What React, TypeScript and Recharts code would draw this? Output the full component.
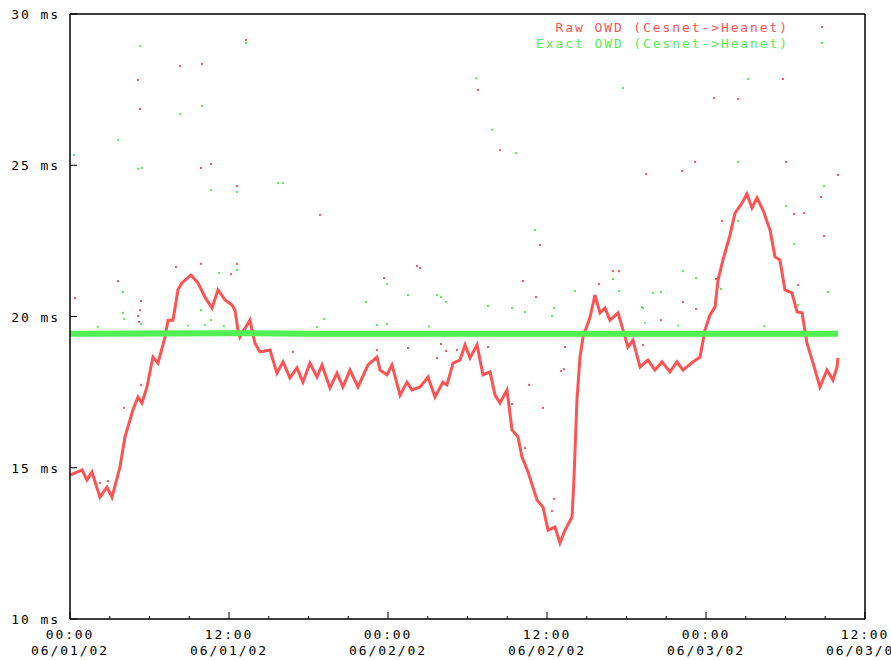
import { ComposedChart, Line, Scatter, XAxis, YAxis, Legend } from 'recharts';

const RED = '#ff5252';
const GREEN = '#52f052';
const FONT = '"DejaVu Sans Mono", monospace';

// x = hours since 06/01/02 00:00, y = one-way delay in ms
const xTicks = [0, 3, 6, 9, 12, 15, 18, 21, 24, 27, 30, 33, 36, 39, 42, 45, 48, 51, 54, 57, 60];
const xTickTimes = ['00:00', '12:00', '00:00', '12:00', '00:00', '12:00'];
const xTickDates = ['06/01/02', '06/01/02', '06/02/02', '06/02/02', '06/03/02', '06/03/02'];
const yTicks = [10, 15, 20, 25, 30];

const rawHours = [
  0, 0.91, 1.28, 1.66, 2.26, 2.79, 3.17, 3.77, 4.15, 4.75, 5.13, 5.43, 5.81, 6.26, 6.64, 7.17,
  7.4, 7.77, 8.15, 8.45, 9.13, 9.66, 10.19, 10.72, 11.17, 11.7, 12.23, 12.45, 12.68, 12.83, 13.58,
  13.96, 14.34, 15.09, 15.62, 16.08, 16.6, 17.13, 17.58, 18.11, 18.64, 19.02, 19.62, 20.15, 20.6,
  21.13, 21.74, 22.49, 23.17, 23.4, 23.92, 24.3, 24.91, 25.43, 25.81, 26.42, 27.02, 27.55, 28.15,
  28.45, 28.91, 29.43, 29.81, 30.19, 30.72, 31.17, 31.7, 32.08, 32.45, 32.98, 33.36, 33.81, 34.11,
  34.57, 35.25, 35.7, 36.08, 36.6, 36.98, 37.36, 37.89, 38.04, 38.26, 38.49, 38.72, 39.25, 39.62,
  40.0, 40.38, 40.75, 41.36, 41.74, 42.11, 42.49, 43.02, 43.62, 44.15, 44.68, 45.28, 45.81, 46.26,
  47.02, 47.55, 47.92, 48.3, 48.68, 48.91, 49.28, 49.81, 50.19, 50.72, 51.09, 51.47, 51.85, 52.3,
  52.83, 53.21, 53.58, 53.96, 54.49, 54.87, 55.25, 55.62, 56.08, 56.6, 57.13, 57.58, 57.89, 57.96,
];
const rawMs = [
  14.76, 14.93, 14.6, 14.86, 14.03, 14.36, 14.03, 15.02, 16.02, 16.91, 17.34, 17.14, 17.67, 18.66,
  18.46, 19.32, 19.88, 19.88, 20.88, 21.11, 21.37, 21.11, 20.64, 20.28, 20.88, 20.55, 20.38, 20.21,
  19.55, 19.32, 19.88, 19.12, 18.83, 18.89, 18.13, 18.5, 17.97, 18.3, 17.83, 18.46, 18.0, 18.4,
  17.64, 18.13, 17.67, 18.23, 17.67, 18.4, 18.66, 18.23, 18.07, 18.4, 17.4, 17.83, 17.57, 17.67,
  18.0, 17.34, 17.83, 17.74, 18.46, 18.56, 19.06, 18.63, 19.06, 18.07, 18.17, 17.4, 17.14, 17.57,
  16.25, 16.02, 15.36, 14.86, 13.93, 13.7, 12.94, 13.04, 12.51, 12.94, 13.37, 14.69, 17.24, 18.66,
  19.32, 19.98, 20.71, 20.12, 20.28, 19.88, 20.12, 19.55, 18.99, 19.22, 18.33, 18.56, 18.23, 18.5,
  18.17, 18.5, 18.23, 18.5, 18.66, 19.55, 20.05, 20.31, 21.21, 21.87, 22.69, 23.42, 23.75, 24.05,
  23.59, 23.92, 23.52, 22.86, 21.97, 21.87, 20.88, 20.78, 20.15, 20.12, 19.12, 18.46, 17.67, 18.23,
  17.9, 18.33, 18.63,
];

const rawOutHours = [
  13.28, 8.3, 9.96, 5.13, 5.28, 9.89, 10.64, 12.6, 53.81, 48.6, 50.42, 56.68, 54.64, 55.4, 56.91,
  49.21, 48.75, 54.94, 43.47, 46.19, 47.17, 54.04, 57.96, 46.26, 47.25, 26.19, 26.42, 23.7, 34.19,
  40.98, 41.43, 39.92, 35.17, 25.51, 27.7, 28.38, 28.0, 29.21, 31.55, 37.36, 37.06, 37.28, 34.64,
  35.7, 36.53, 36.38, 34.34, 33.36, 16.83, 23.17, 0.38, 3.62, 5.36, 5.28, 5.13, 5.21, 8.0, 9.89,
  12.15, 12.6, 4.08, 5.36, 2.26, 2.87, 44.6, 43.25, 30.79, 18.87, 35.47, 32.45,
];
const rawOutMs = [
  29.14, 28.28, 28.35, 27.82, 26.86, 24.91, 25.04, 24.31, 27.85, 27.22, 27.19, 23.95, 23.39, 23.42,
  22.66, 23.16, 21.24, 21.04, 24.71, 24.81, 25.11, 25.11, 24.68, 20.48, 20.25, 21.67, 21.6, 21.27,
  21.17, 21.5, 21.5, 21.07, 20.64, 18.96, 18.63, 18.86, 19.09, 18.89, 18.99, 18.99, 18.2, 18.26,
  17.74, 16.98, 13.97, 13.57, 15.65, 17.11, 18.83, 18.89, 20.61, 21.17, 20.51, 20.21, 20.02, 19.82,
  21.64, 21.74, 21.4, 21.74, 16.98, 17.74, 14.5, 14.56, 19.88, 19.06, 27.49, 23.36, 22.36, 25.5,
];

const exactHours = [0, 6, 12, 18, 24, 30, 36, 42, 48, 54, 57.96];
const exactMs = [19.43, 19.44, 19.45, 19.43, 19.43, 19.43, 19.43, 19.43, 19.43, 19.43, 19.43];

const exactOutHours = [
  5.28, 13.28, 8.3, 9.96, 3.62, 0.3, 5.13, 5.43, 12.6, 10.64, 15.7, 16.08, 51.17, 41.74, 56.91,
  54.04, 54.64, 50.42, 57.21, 49.13, 54.94, 50.42, 46.26, 47.25, 44.0, 44.6, 43.25, 23.92, 40.98,
  41.43, 22.34, 25.51, 27.7, 28.0, 38.11, 28.38, 31.55, 33.36, 36.53, 34.34, 36.38, 19.17, 23.92,
  23.17, 18.64, 4.0, 4.0, 4.08, 5.36, 11.25, 12.6, 9.89, 10.64, 43.4, 43.17, 30.64, 31.85, 33.66,
  35.09, 8.9, 10.2, 11.6, 2.1, 27.1, 45.9, 52.4,
];
const exactOutMs = [
  28.94, 29.04, 26.69, 26.96, 25.83, 25.34, 24.88, 24.91, 24.12, 24.18, 24.41, 24.41, 27.85, 27.55,
  24.31, 23.65, 22.4, 23.16, 20.81, 20.91, 20.38, 25.11, 21.5, 21.27, 20.78, 20.81, 20.28, 21.07,
  21.24, 20.84, 20.48, 20.71, 20.71, 20.64, 20.84, 20.48, 20.35, 20.28, 20.28, 20.15, 20.02, 19.92,
  19.75, 19.72, 19.65, 20.81, 20.12, 19.92, 19.75, 21.44, 21.54, 20.21, 19.88, 19.79, 20.31, 27.88,
  26.17, 25.4, 22.86, 19.7, 19.72, 19.68, 19.66, 19.67, 19.7, 19.68,
];

const labelStyle = { fontFamily: FONT, fontSize: 13, letterSpacing: 1.9, fill: '#000' };

const BottomTick = (props: any) => {
  const { x, y, payload } = props;
  const h = payload.value as number;
  const major = h % 12 === 0;
  const i = h / 12;
  return (
    <g>
      <line x1={x} x2={x} y1={y} y2={y - (major ? 7 : 3)} stroke="#000" />
      {major && (
        <text x={x} y={y + 20} textAnchor="middle" style={labelStyle}>
          <tspan x={x}>{xTickTimes[i]}</tspan>
          <tspan x={x} dy={16}>{xTickDates[i]}</tspan>
        </text>
      )}
    </g>
  );
};

const TopTick = (props: any) => {
  const { x, y, payload } = props;
  const major = (payload.value as number) % 12 === 0;
  return <line x1={x} x2={x} y1={y} y2={y + (major ? 7 : 3)} stroke="#000" />;
};

const LeftTick = (props: any) => {
  const { x, y, payload } = props;
  return (
    <g>
      <line x1={x} x2={x + 7} y1={y} y2={y} stroke="#000" />
      <text x={x - 10} y={y + 5} textAnchor="end" style={labelStyle}>
        {payload.value} ms
      </text>
    </g>
  );
};

const RightTick = (props: any) => {
  const { x, y } = props;
  return <line x1={x} x2={x - 7} y1={y} y2={y} stroke="#000" />;
};

const Dot = (props: any) => {
  const { cx, cy, fill } = props;
  return <rect x={cx - 1} y={cy - 1} width={2} height={2} fill={fill} />;
};

const legendRows = [
  { label: 'Raw OWD (Cesnet->Heanet)', color: RED },
  { label: 'Exact OWD (Cesnet->Heanet)', color: GREEN },
];

const LegendBox = () => (
  <div style={{ fontFamily: FONT, fontSize: 13, letterSpacing: 1.9 }}>
    {legendRows.map((r) => (
      <div
        key={r.label}
        style={{ display: 'flex', justifyContent: 'flex-end', alignItems: 'center', height: 16, color: r.color }}
      >
        <span style={{ whiteSpace: 'pre' }}>{r.label}</span>
        <span style={{ display: 'inline-block', width: 2, height: 2, background: r.color, marginLeft: 32, marginRight: 7 }} />
      </div>
    ))}
  </div>
);

export default function App() {
  const rawLine = rawHours.map((h, i) => ({ h, v: rawMs[i] }));
  const rawOut = rawOutHours.map((h, i) => ({ h, v: rawOutMs[i] }));
  const exactLine = exactHours.map((h, i) => ({ h, v: exactMs[i] }));
  const exactOut = exactOutHours.map((h, i) => ({ h, v: exactOutMs[i] }));

  return (
    <div style={{ position: 'absolute', left: 0, top: 0, width: 891, height: 660, overflow: 'hidden', background: '#fff' }}>
      <ComposedChart width={891} height={660} margin={{ top: 0, right: 0, bottom: 0, left: 0 }}>
        <XAxis
          xAxisId="b"
          dataKey="h"
          type="number"
          domain={[0, 60]}
          ticks={xTicks}
          interval={0}
          height={41}
          tickSize={0}
          tickMargin={0}
          tickLine={false}
          axisLine={{ stroke: '#000', strokeWidth: 1.5 }}
          tick={<BottomTick />}
        />
        <XAxis
          xAxisId="t"
          orientation="top"
          dataKey="h"
          type="number"
          domain={[0, 60]}
          ticks={xTicks}
          interval={0}
          height={14}
          tickSize={0}
          tickMargin={0}
          tickLine={false}
          axisLine={{ stroke: '#000', strokeWidth: 1.5 }}
          tick={<TopTick />}
        />
        <YAxis
          yAxisId="l"
          dataKey="v"
          type="number"
          domain={[10, 30]}
          ticks={yTicks}
          interval={0}
          width={70}
          tickSize={0}
          tickMargin={0}
          tickLine={false}
          axisLine={{ stroke: '#000', strokeWidth: 1.5 }}
          tick={<LeftTick />}
        />
        <YAxis
          yAxisId="r"
          orientation="right"
          dataKey="v"
          type="number"
          domain={[10, 30]}
          ticks={yTicks}
          interval={0}
          width={26}
          tickSize={0}
          tickMargin={0}
          tickLine={false}
          axisLine={{ stroke: '#000', strokeWidth: 1.5 }}
          tick={<RightTick />}
        />
        <Legend
          layout="horizontal"
          verticalAlign="middle"
          content={<LegendBox />}
          wrapperStyle={{ position: 'absolute', top: 19, left: 500, width: 330 }}
        />
        <Line
          xAxisId="b"
          yAxisId="l"
          data={rawLine}
          dataKey="v"
          name="Raw OWD (Cesnet->Heanet)"
          stroke={RED}
          strokeWidth={3}
          dot={false}
          type="linear"
          isAnimationActive={false}
        />
        <Scatter
          xAxisId="b"
          yAxisId="l"
          data={rawOut}
          dataKey="v"
          fill={RED}
          shape={<Dot />}
          isAnimationActive={false}
        />
        <Line
          xAxisId="b"
          yAxisId="l"
          data={exactLine}
          dataKey="v"
          name="Exact OWD (Cesnet->Heanet)"
          stroke={GREEN}
          strokeWidth={6}
          dot={false}
          type="linear"
          isAnimationActive={false}
        />
        <Scatter
          xAxisId="b"
          yAxisId="l"
          data={exactOut}
          dataKey="v"
          fill={GREEN}
          shape={<Dot />}
          isAnimationActive={false}
        />
      </ComposedChart>
    </div>
  );
}
